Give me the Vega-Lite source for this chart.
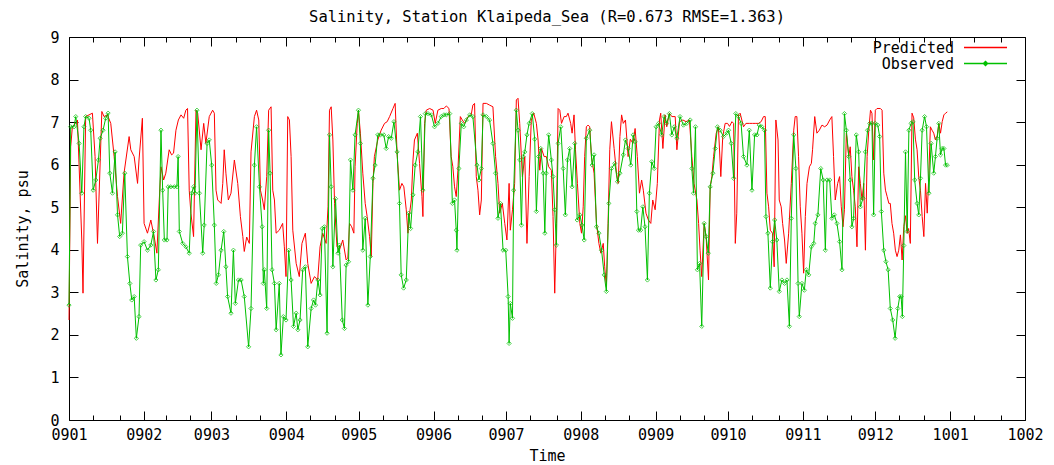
{
  "$schema": "https://vega.github.io/schema/vega-lite/v6.json",
  "width": 956,
  "height": 383,
  "autosize": {"type": "none"},
  "padding": {"left": 69, "top": 37, "right": 29, "bottom": 45},
  "background": "white",
  "title": {"text": "Salinity, Station Klaipeda_Sea (R=0.673 RMSE=1.363)", "font": "DejaVu Sans Mono", "fontSize": 15.5, "fontWeight": "normal", "color": "#000", "anchor": "middle", "offset": 5},
  "config": {
    "view": {"stroke": "#000", "strokeWidth": 1},
    "font": "DejaVu Sans Mono",
    "axis": {"labelFont": "DejaVu Sans Mono", "labelFontSize": 15, "labelColor": "#000", "titleFont": "DejaVu Sans Mono", "titleFontSize": 15, "titleFontWeight": "normal", "titleColor": "#000", "tickColor": "#000", "domain": false, "grid": false}
  },
  "datasets": {
    "pred": [
      {"day":0,"psu":2.35},{"day":0.7,"psu":6.42},{"day":1.4,"psu":6.89},{"day":2.8,"psu":6.97},{"day":3.5,"psu":7.05},{"day":5.3,"psu":4.23},{"day":5.8,"psu":2.98},{"day":6.9,"psu":7.13},{"day":8.3,"psu":7.17},{"day":9.7,"psu":7.21},{"day":10.8,"psu":6.19},{"day":11.8,"psu":4.15},{"day":13.6,"psu":7.25},{"day":14.5,"psu":7.13},{"day":15.9,"psu":7.17},{"day":17.3,"psu":6.97},{"day":18.7,"psu":6.19},{"day":20.1,"psu":5.25},{"day":21.4,"psu":4.62},{"day":22.8,"psu":5.8},{"day":24.9,"psu":6.66},{"day":25.6,"psu":6.35},{"day":27,"psu":6.19},{"day":28.4,"psu":5.56},{"day":29,"psu":6.11},{"day":30.4,"psu":7.09},{"day":31.1,"psu":4.62},{"day":32.5,"psu":4.39},{"day":33.9,"psu":4.7},{"day":35.3,"psu":4.3},{"day":36.4,"psu":3.92},{"day":37.4,"psu":5.17},{"day":38.1,"psu":5.95},{"day":39.2,"psu":5.64},{"day":40.1,"psu":5.8},{"day":41.5,"psu":6.35},{"day":42.5,"psu":6.23},{"day":43.3,"psu":6.27},{"day":44.3,"psu":6.81},{"day":45.3,"psu":7.05},{"day":46.4,"psu":7.17},{"day":47.5,"psu":7.09},{"day":48.4,"psu":7.28},{"day":49.1,"psu":7.32},{"day":49.8,"psu":5.4},{"day":50.5,"psu":4.86},{"day":51.6,"psu":4.31},{"day":52.6,"psu":7.28},{"day":53.3,"psu":7.21},{"day":54.7,"psu":6.35},{"day":55.8,"psu":6.97},{"day":56.7,"psu":6.5},{"day":58.1,"psu":7.13},{"day":59.5,"psu":7.28},{"day":60.2,"psu":7.21},{"day":60.9,"psu":5.4},{"day":61.6,"psu":5.17},{"day":63,"psu":5.09},{"day":63.7,"psu":5.56},{"day":64.3,"psu":6.35},{"day":65,"psu":5.8},{"day":66,"psu":5.17},{"day":67.1,"psu":5.33},{"day":68.5,"psu":6.11},{"day":69.9,"psu":5.56},{"day":71,"psu":4.78},{"day":72,"psu":4.31},{"day":72.6,"psu":3.96},{"day":73.6,"psu":4.3},{"day":74.7,"psu":4.15},{"day":75.4,"psu":6.3},{"day":76.8,"psu":7.13},{"day":77.7,"psu":7.28},{"day":78.6,"psu":7.05},{"day":79.3,"psu":5.4},{"day":80.2,"psu":5.17},{"day":80.9,"psu":4.94},{"day":81.9,"psu":5.72},{"day":82.7,"psu":7.28},{"day":83.7,"psu":7.36},{"day":84.4,"psu":5.4},{"day":85.1,"psu":5.17},{"day":85.8,"psu":4.39},{"day":87.1,"psu":4.46},{"day":88.5,"psu":4.62},{"day":89.2,"psu":4.07},{"day":89.9,"psu":3.37},{"day":90.6,"psu":7.13},{"day":91.3,"psu":7.05},{"day":92,"psu":6.19},{"day":92.7,"psu":4.46},{"day":94.1,"psu":3.68},{"day":95.4,"psu":3.37},{"day":96.5,"psu":4.15},{"day":97.9,"psu":4.39},{"day":98.9,"psu":3.68},{"day":100.3,"psu":3.21},{"day":101.7,"psu":3.37},{"day":103,"psu":3.29},{"day":104,"psu":4.07},{"day":105.1,"psu":4.39},{"day":106.5,"psu":4.15},{"day":107.3,"psu":5.01},{"day":107.9,"psu":7.28},{"day":108.6,"psu":7.36},{"day":109.3,"psu":6.58},{"day":110,"psu":5.09},{"day":111,"psu":4.07},{"day":112,"psu":3.99},{"day":113.4,"psu":4.23},{"day":114.8,"psu":3.76},{"day":115.5,"psu":3.8},{"day":116.2,"psu":4.62},{"day":117.1,"psu":4.54},{"day":118,"psu":4.39},{"day":118.5,"psu":5.95},{"day":119.4,"psu":6.97},{"day":119.9,"psu":7.28},{"day":120.7,"psu":6.74},{"day":121.7,"psu":5.8},{"day":122.7,"psu":5.09},{"day":123.5,"psu":4.78},{"day":124.5,"psu":4.31},{"day":125.2,"psu":3.84},{"day":125.9,"psu":5.56},{"day":126.5,"psu":6.19},{"day":127.9,"psu":6.58},{"day":129.3,"psu":6.81},{"day":130.7,"psu":6.97},{"day":131.8,"psu":7.01},{"day":132.8,"psu":7.13},{"day":134.2,"psu":7.32},{"day":135.1,"psu":7.44},{"day":135.9,"psu":6.27},{"day":136.9,"psu":5.4},{"day":137.9,"psu":5.56},{"day":138.7,"psu":5.48},{"day":139.7,"psu":4.94},{"day":140.4,"psu":4.39},{"day":141.1,"psu":4.86},{"day":141.8,"psu":5.17},{"day":142.5,"psu":6.11},{"day":143.1,"psu":6.58},{"day":144.3,"psu":6.74},{"day":145.2,"psu":6.03},{"day":146.2,"psu":5.25},{"day":146.6,"psu":4.78},{"day":147.3,"psu":6.97},{"day":148,"psu":7.28},{"day":149.4,"psu":7.32},{"day":150.8,"psu":7.28},{"day":151.7,"psu":6.97},{"day":152.8,"psu":7.28},{"day":154.2,"psu":7.32},{"day":155.3,"psu":7.32},{"day":156.3,"psu":7.38},{"day":157.4,"psu":7.32},{"day":158.3,"psu":6.19},{"day":159,"psu":5.95},{"day":159.7,"psu":5.48},{"day":160.4,"psu":5.25},{"day":161.1,"psu":5.87},{"day":162.1,"psu":7.13},{"day":162.9,"psu":7.05},{"day":163.9,"psu":6.97},{"day":165.3,"psu":7.13},{"day":166.6,"psu":7.17},{"day":167.3,"psu":7.4},{"day":168,"psu":7.44},{"day":168.7,"psu":5.72},{"day":169.4,"psu":5.4},{"day":170.1,"psu":4.82},{"day":170.8,"psu":5.17},{"day":171.5,"psu":7.44},{"day":172.9,"psu":7.44},{"day":174.2,"psu":7.4},{"day":175.6,"psu":7.36},{"day":176.7,"psu":6.19},{"day":177.7,"psu":5.56},{"day":178.4,"psu":4.86},{"day":179.5,"psu":5.09},{"day":180.5,"psu":4.62},{"day":181.4,"psu":4.23},{"day":182.3,"psu":5.56},{"day":182.8,"psu":4.46},{"day":183.7,"psu":4.94},{"day":184.6,"psu":5.56},{"day":185.3,"psu":7.52},{"day":186,"psu":7.56},{"day":186.7,"psu":6.97},{"day":187.8,"psu":5.72},{"day":188.8,"psu":6.19},{"day":189.7,"psu":4.15},{"day":190.6,"psu":5.72},{"day":191.5,"psu":7.05},{"day":192.5,"psu":7.21},{"day":193.6,"psu":6.97},{"day":194.3,"psu":6.58},{"day":195,"psu":5.87},{"day":195.7,"psu":6.38},{"day":196.8,"psu":6.19},{"day":197.7,"psu":6.19},{"day":198.7,"psu":5.95},{"day":199.8,"psu":5.87},{"day":200.5,"psu":4.78},{"day":201.2,"psu":2.98},{"day":201.9,"psu":4.62},{"day":202.6,"psu":7.32},{"day":203.3,"psu":7.28},{"day":204,"psu":6.97},{"day":205.1,"psu":7.13},{"day":206,"psu":7.13},{"day":206.7,"psu":7.21},{"day":207.8,"psu":6.97},{"day":208.4,"psu":6.74},{"day":209.2,"psu":7.17},{"day":209.8,"psu":6.35},{"day":210.6,"psu":5.56},{"day":211.6,"psu":4.62},{"day":212.3,"psu":4.39},{"day":213,"psu":5.01},{"day":213.6,"psu":6.19},{"day":214.3,"psu":6.89},{"day":215,"psu":6.93},{"day":215.7,"psu":6.89},{"day":216.4,"psu":6.19},{"day":217.5,"psu":5.8},{"day":218.5,"psu":4.62},{"day":219.5,"psu":4.15},{"day":220.3,"psu":3.92},{"day":221.3,"psu":4.15},{"day":221.9,"psu":3.6},{"day":222.6,"psu":3.13},{"day":223.3,"psu":4.62},{"day":224,"psu":6.35},{"day":224.7,"psu":7.01},{"day":225.8,"psu":6.38},{"day":226.8,"psu":5.8},{"day":227.5,"psu":5.56},{"day":228.2,"psu":6.66},{"day":228.9,"psu":7.17},{"day":229.6,"psu":6.97},{"day":230.5,"psu":7.05},{"day":231.6,"psu":6.19},{"day":232.5,"psu":6.6},{"day":233.6,"psu":6.5},{"day":234.5,"psu":6.85},{"day":235.4,"psu":6.19},{"day":236.3,"psu":5.33},{"day":237.2,"psu":5.64},{"day":237.9,"psu":5.4},{"day":239,"psu":4.86},{"day":240,"psu":4.7},{"day":241,"psu":4.62},{"day":241.8,"psu":5.17},{"day":242.8,"psu":4.94},{"day":243.7,"psu":5.56},{"day":244.6,"psu":7.05},{"day":245.1,"psu":7.21},{"day":246,"psu":6.38},{"day":246.9,"psu":7.17},{"day":247.6,"psu":6.89},{"day":248.7,"psu":7.21},{"day":249.7,"psu":7.13},{"day":251.1,"psu":7.13},{"day":251.8,"psu":6.35},{"day":252.9,"psu":7.01},{"day":254.3,"psu":7.05},{"day":255.6,"psu":7.01},{"day":257,"psu":7.05},{"day":258,"psu":6.19},{"day":258.9,"psu":5.56},{"day":260.1,"psu":5.17},{"day":260.8,"psu":4.62},{"day":261.4,"psu":3.99},{"day":262.1,"psu":3.37},{"day":263.1,"psu":4.62},{"day":263.9,"psu":4.31},{"day":264.9,"psu":3.29},{"day":265.6,"psu":5.48},{"day":266.3,"psu":5.72},{"day":267,"psu":6.19},{"day":268.1,"psu":6.74},{"day":269,"psu":6.89},{"day":270,"psu":5.72},{"day":270.8,"psu":6.66},{"day":271.8,"psu":6.97},{"day":272.8,"psu":6.97},{"day":273.6,"psu":6.9},{"day":274.6,"psu":7.01},{"day":275.3,"psu":6.97},{"day":276,"psu":4.15},{"day":276.6,"psu":4.86},{"day":277.3,"psu":7.17},{"day":278,"psu":7.21},{"day":279.4,"psu":6.89},{"day":280.4,"psu":6.97},{"day":281.8,"psu":6.97},{"day":283.1,"psu":6.97},{"day":284.5,"psu":6.97},{"day":285.6,"psu":6.97},{"day":286.7,"psu":7.01},{"day":287.7,"psu":7.13},{"day":288.4,"psu":7.13},{"day":289.1,"psu":5.33},{"day":289.8,"psu":5.01},{"day":290.5,"psu":4.46},{"day":291.4,"psu":4.39},{"day":292.1,"psu":3.6},{"day":292.8,"psu":7.05},{"day":293.7,"psu":6.58},{"day":294.2,"psu":5.17},{"day":295,"psu":5.01},{"day":295.6,"psu":4.62},{"day":296.4,"psu":4.23},{"day":297.1,"psu":3.68},{"day":298.1,"psu":4.39},{"day":299.2,"psu":5.56},{"day":300.2,"psu":6.81},{"day":300.8,"psu":7.13},{"day":301.5,"psu":7.13},{"day":302.2,"psu":6.19},{"day":302.9,"psu":5.01},{"day":303.6,"psu":4.39},{"day":304.3,"psu":3.45},{"day":305,"psu":4.78},{"day":305.7,"psu":5.56},{"day":306.7,"psu":5.95},{"day":307.5,"psu":6.03},{"day":308,"psu":6.35},{"day":308.9,"psu":7.13},{"day":309.8,"psu":6.74},{"day":310.8,"psu":6.81},{"day":311.9,"psu":6.93},{"day":313,"psu":6.89},{"day":314,"psu":6.93},{"day":315.1,"psu":7.05},{"day":316,"psu":7.13},{"day":316.7,"psu":6.19},{"day":317.4,"psu":5.17},{"day":318.4,"psu":5.56},{"day":319.2,"psu":5.72},{"day":319.9,"psu":5.01},{"day":320.6,"psu":4.54},{"day":321.2,"psu":4.94},{"day":322,"psu":6.74},{"day":323,"psu":6.19},{"day":323.6,"psu":6.42},{"day":324.3,"psu":5.72},{"day":325,"psu":5.4},{"day":325.7,"psu":5.01},{"day":326.4,"psu":4.07},{"day":327.1,"psu":5.95},{"day":327.8,"psu":5.56},{"day":328.5,"psu":5.17},{"day":329.2,"psu":5.56},{"day":329.9,"psu":3.99},{"day":330.6,"psu":6.19},{"day":331.3,"psu":6.81},{"day":332,"psu":7.28},{"day":332.6,"psu":7.21},{"day":333.3,"psu":6.11},{"day":334,"psu":7.28},{"day":334.7,"psu":7.32},{"day":336.1,"psu":7.32},{"day":336.8,"psu":7.28},{"day":337.5,"psu":5.8},{"day":338.2,"psu":5.4},{"day":338.9,"psu":5.25},{"day":339.6,"psu":5.09},{"day":340.2,"psu":5.09},{"day":340.9,"psu":4.62},{"day":341.6,"psu":4.39},{"day":342.3,"psu":3.99},{"day":343,"psu":3.84},{"day":343.7,"psu":3.99},{"day":344.4,"psu":4.35},{"day":345.1,"psu":3.76},{"day":345.8,"psu":4.55},{"day":346.5,"psu":4.8},{"day":347.2,"psu":4.39},{"day":347.8,"psu":4.5},{"day":348.5,"psu":4.15},{"day":349.2,"psu":7.21},{"day":349.9,"psu":7.1},{"day":350.6,"psu":6.6},{"day":351.3,"psu":6.35},{"day":352,"psu":5.7},{"day":352.7,"psu":5.4},{"day":353.4,"psu":4.78},{"day":354.1,"psu":4.31},{"day":354.8,"psu":5.56},{"day":355.5,"psu":4.86},{"day":356.2,"psu":5.8},{"day":356.8,"psu":6.89},{"day":357.5,"psu":6.81},{"day":358.2,"psu":6.74},{"day":358.9,"psu":6.58},{"day":359.6,"psu":6.66},{"day":360.3,"psu":6.97},{"day":361,"psu":6.74},{"day":361.7,"psu":7.01},{"day":362.4,"psu":7.17},{"day":363.1,"psu":7.21},{"day":363.8,"psu":7.24}
    ],
    "obs": [
      {"day":0,"psu":2.7},{"day":0.7,"psu":6.89},{"day":2.1,"psu":6.89},{"day":2.8,"psu":7.13},{"day":4.2,"psu":6.5},{"day":5.3,"psu":5.33},{"day":6.2,"psu":6.89},{"day":6.9,"psu":7.13},{"day":8.3,"psu":7.09},{"day":9,"psu":6.81},{"day":10,"psu":5.4},{"day":11.1,"psu":5.64},{"day":12.2,"psu":6.11},{"day":12.9,"psu":6.62},{"day":14.1,"psu":6.81},{"day":15.2,"psu":7.09},{"day":16.2,"psu":7.21},{"day":16.9,"psu":5.8},{"day":18,"psu":5.33},{"day":19.1,"psu":6.3},{"day":20.1,"psu":4.82},{"day":21,"psu":4.31},{"day":22.1,"psu":4.39},{"day":23.1,"psu":5.8},{"day":24.2,"psu":3.84},{"day":25.2,"psu":3.21},{"day":26,"psu":2.82},{"day":27,"psu":2.9},{"day":27.9,"psu":1.92},{"day":29,"psu":2.43},{"day":29.7,"psu":4.11},{"day":31.1,"psu":4.19},{"day":32.5,"psu":3.99},{"day":33.9,"psu":4.11},{"day":35,"psu":4.43},{"day":36,"psu":3.29},{"day":37,"psu":3.53},{"day":38.1,"psu":6.81},{"day":38.8,"psu":5.4},{"day":39.5,"psu":4.23},{"day":40.6,"psu":4.23},{"day":41.1,"psu":5.48},{"day":42.2,"psu":5.48},{"day":43.6,"psu":5.48},{"day":44.7,"psu":5.48},{"day":45.2,"psu":6.19},{"day":45.7,"psu":4.43},{"day":47.1,"psu":4.15},{"day":48.4,"psu":4.07},{"day":49.8,"psu":3.92},{"day":50.8,"psu":5.33},{"day":51.6,"psu":5.48},{"day":52.2,"psu":5.33},{"day":53,"psu":7.28},{"day":54,"psu":5.33},{"day":55.4,"psu":3.92},{"day":56,"psu":4.58},{"day":57.2,"psu":6.5},{"day":58.1,"psu":6.58},{"day":59.1,"psu":5.99},{"day":60.2,"psu":4.58},{"day":61,"psu":3.21},{"day":61.9,"psu":3.41},{"day":63,"psu":3.99},{"day":64.1,"psu":4.43},{"day":65,"psu":3.6},{"day":65.7,"psu":2.9},{"day":67.1,"psu":2.51},{"day":68.1,"psu":3.99},{"day":68.9,"psu":2.74},{"day":70.2,"psu":3.29},{"day":71.3,"psu":3.29},{"day":72.6,"psu":2.9},{"day":74.4,"psu":1.72},{"day":75.4,"psu":2.62},{"day":76.8,"psu":5.99},{"day":77.7,"psu":6.89},{"day":78.9,"psu":5.48},{"day":80,"psu":4.54},{"day":80.5,"psu":3.21},{"day":80.9,"psu":3.53},{"day":81.9,"psu":2.62},{"day":82.7,"psu":6.81},{"day":83.3,"psu":5.8},{"day":84.1,"psu":3.53},{"day":85.1,"psu":3.21},{"day":85.8,"psu":2.12},{"day":87.1,"psu":3.21},{"day":87.8,"psu":1.53},{"day":88.8,"psu":2.43},{"day":89.9,"psu":2.35},{"day":91,"psu":3.99},{"day":92,"psu":3.29},{"day":93,"psu":2.2},{"day":94.1,"psu":2.51},{"day":94.8,"psu":2.12},{"day":95.7,"psu":2.35},{"day":96.8,"psu":3.53},{"day":97.9,"psu":3.6},{"day":98.9,"psu":1.72},{"day":100.3,"psu":2.62},{"day":101.3,"psu":2.82},{"day":102.1,"psu":2.7},{"day":103.1,"psu":3.29},{"day":104,"psu":2.94},{"day":104.9,"psu":4.5},{"day":105.8,"psu":4.54},{"day":106.9,"psu":2.04},{"day":107.9,"psu":6.7},{"day":108.6,"psu":5.48},{"day":109.3,"psu":3.6},{"day":110.4,"psu":5.2},{"day":111.4,"psu":3.92},{"day":112,"psu":4.11},{"day":113.2,"psu":2.35},{"day":114.1,"psu":2.15},{"day":114.8,"psu":3.64},{"day":115.8,"psu":3.72},{"day":116.6,"psu":6.11},{"day":117.6,"psu":5.4},{"day":118.5,"psu":6.7},{"day":119.9,"psu":7.28},{"day":120.7,"psu":6.5},{"day":121.7,"psu":3.99},{"day":122.7,"psu":4.74},{"day":123.8,"psu":2.7},{"day":124.8,"psu":3.84},{"day":125.9,"psu":5.68},{"day":126.8,"psu":5.99},{"day":127.9,"psu":6.7},{"day":129,"psu":6.7},{"day":130.4,"psu":6.7},{"day":131.4,"psu":6.38},{"day":132.4,"psu":6.66},{"day":133.5,"psu":6.62},{"day":134.6,"psu":7.01},{"day":135.9,"psu":6.3},{"day":136.9,"psu":5.09},{"day":137.6,"psu":3.41},{"day":138.6,"psu":3.1},{"day":139.7,"psu":3.29},{"day":140.7,"psu":4.86},{"day":141.5,"psu":4.5},{"day":142.5,"psu":5.29},{"day":143.4,"psu":5.99},{"day":144.5,"psu":6.3},{"day":145.6,"psu":7.13},{"day":146.6,"psu":5.4},{"day":147.6,"psu":7.2},{"day":148.7,"psu":7.2},{"day":150.1,"psu":7.17},{"day":151.4,"psu":6.89},{"day":152.8,"psu":6.97},{"day":154.2,"psu":7.13},{"day":155.3,"psu":7.17},{"day":156.3,"psu":7.17},{"day":157.7,"psu":7.2},{"day":158.8,"psu":5.09},{"day":159.7,"psu":5.17},{"day":160.4,"psu":4.46},{"day":160.7,"psu":3.99},{"day":161.5,"psu":5.91},{"day":162.5,"psu":6.97},{"day":163.5,"psu":6.89},{"day":164.6,"psu":7.05},{"day":166,"psu":7.17},{"day":167.3,"psu":7.13},{"day":169,"psu":5.99},{"day":169.8,"psu":5.64},{"day":170.8,"psu":5.91},{"day":171.5,"psu":7.17},{"day":172.9,"psu":7.13},{"day":174.2,"psu":7.05},{"day":175.6,"psu":6.5},{"day":176.7,"psu":5.8},{"day":177.7,"psu":4.74},{"day":178.7,"psu":5.09},{"day":179.8,"psu":3.99},{"day":180.9,"psu":3.99},{"day":181.9,"psu":2.9},{"day":182.3,"psu":1.8},{"day":182.8,"psu":2.74},{"day":183.7,"psu":2.39},{"day":184.2,"psu":5.4},{"day":185.3,"psu":7.28},{"day":186,"psu":6.81},{"day":186.7,"psu":6.11},{"day":187.4,"psu":4.58},{"day":188.1,"psu":6.19},{"day":188.8,"psu":6.3},{"day":189.7,"psu":6.7},{"day":190.6,"psu":6.97},{"day":191.9,"psu":7.2},{"day":192.9,"psu":6.6},{"day":193.6,"psu":4.9},{"day":194.5,"psu":6.19},{"day":195.4,"psu":6.38},{"day":196.4,"psu":5.8},{"day":197.1,"psu":4.39},{"day":197.7,"psu":5.8},{"day":198.7,"psu":6.7},{"day":199.8,"psu":6.11},{"day":200.5,"psu":5.72},{"day":201.2,"psu":4.94},{"day":201.9,"psu":4.11},{"day":202.6,"psu":6.5},{"day":203.7,"psu":6.89},{"day":204.7,"psu":5.91},{"day":205.6,"psu":4.82},{"day":206.5,"psu":6.11},{"day":207.4,"psu":6.38},{"day":208.4,"psu":5.48},{"day":209.5,"psu":6.5},{"day":210.5,"psu":4.7},{"day":211.6,"psu":4.82},{"day":212.5,"psu":4.58},{"day":213.4,"psu":4.23},{"day":214.3,"psu":6.62},{"day":215.7,"psu":6.81},{"day":216.7,"psu":5.99},{"day":217.5,"psu":6.23},{"day":218.5,"psu":4.54},{"day":219.5,"psu":4.39},{"day":220.6,"psu":3.99},{"day":221.7,"psu":3.41},{"day":222.6,"psu":3.02},{"day":223.6,"psu":5.09},{"day":224.7,"psu":5.91},{"day":226.1,"psu":6.03},{"day":227.2,"psu":5.6},{"day":228.2,"psu":5.8},{"day":229.6,"psu":6.23},{"day":230.5,"psu":6.58},{"day":231.6,"psu":6.38},{"day":232.7,"psu":5.99},{"day":233.7,"psu":6.7},{"day":234.5,"psu":6.54},{"day":235.2,"psu":4.9},{"day":235.9,"psu":4.46},{"day":236.8,"psu":4.46},{"day":237.7,"psu":5.01},{"day":238.6,"psu":4.54},{"day":239.6,"psu":3.29},{"day":240.4,"psu":5.33},{"day":241.4,"psu":6.07},{"day":242.4,"psu":5.91},{"day":243.2,"psu":6.89},{"day":244.2,"psu":6.97},{"day":245.5,"psu":6.7},{"day":246.5,"psu":7.13},{"day":247.6,"psu":6.97},{"day":248.7,"psu":7.2},{"day":249.7,"psu":6.7},{"day":250.7,"psu":6.89},{"day":251.8,"psu":6.62},{"day":253.1,"psu":7.13},{"day":254.5,"psu":6.93},{"day":255.9,"psu":6.97},{"day":257.3,"psu":7.05},{"day":258,"psu":5.91},{"day":258.7,"psu":5.33},{"day":259.5,"psu":6.89},{"day":260.3,"psu":3.53},{"day":261.2,"psu":3.68},{"day":262.1,"psu":2.2},{"day":263.1,"psu":4.62},{"day":263.9,"psu":4.31},{"day":264.8,"psu":3.92},{"day":265.6,"psu":5.48},{"day":266.7,"psu":5.8},{"day":267.7,"psu":6.38},{"day":268.6,"psu":6.89},{"day":269.7,"psu":6.81},{"day":271.1,"psu":6.66},{"day":272.5,"psu":6.74},{"day":273.2,"psu":6.81},{"day":274.3,"psu":6.5},{"day":275.3,"psu":5.68},{"day":276.2,"psu":7.2},{"day":277.3,"psu":7.13},{"day":278.4,"psu":6.97},{"day":279.4,"psu":6.19},{"day":280.8,"psu":5.99},{"day":281.8,"psu":6.81},{"day":282.9,"psu":5.4},{"day":284,"psu":6.7},{"day":285,"psu":6.7},{"day":285.9,"psu":6.93},{"day":287,"psu":6.89},{"day":288.1,"psu":6.81},{"day":288.7,"psu":4.78},{"day":289.5,"psu":4.39},{"day":290.5,"psu":3.1},{"day":291.4,"psu":4.19},{"day":292.3,"psu":4.7},{"day":293.2,"psu":4.23},{"day":294.2,"psu":3.02},{"day":295.3,"psu":3.29},{"day":296.4,"psu":3.21},{"day":297.4,"psu":3.29},{"day":298.4,"psu":2.2},{"day":299.2,"psu":4.74},{"day":300.2,"psu":6.7},{"day":301.1,"psu":5.91},{"day":302,"psu":3.21},{"day":302.5,"psu":2.43},{"day":303.6,"psu":3.21},{"day":304.6,"psu":3.05},{"day":305.4,"psu":3.53},{"day":306.4,"psu":3.41},{"day":307.5,"psu":4.07},{"day":308.5,"psu":4.15},{"day":309.1,"psu":4.62},{"day":310.2,"psu":4.82},{"day":311.4,"psu":5.91},{"day":312.4,"psu":5.64},{"day":313.3,"psu":3.99},{"day":314,"psu":5.64},{"day":315.1,"psu":5.64},{"day":316,"psu":4.74},{"day":317,"psu":4.82},{"day":318.1,"psu":4.62},{"day":319.2,"psu":4.19},{"day":320.2,"psu":3.53},{"day":321.2,"psu":7.2},{"day":322,"psu":6.81},{"day":323,"psu":6.19},{"day":323.6,"psu":5.64},{"day":324.3,"psu":4.54},{"day":325,"psu":4.74},{"day":326.1,"psu":6.7},{"day":327.1,"psu":6.3},{"day":327.8,"psu":5.01},{"day":328.9,"psu":5.21},{"day":329.9,"psu":6.3},{"day":330.8,"psu":6.81},{"day":331.7,"psu":6.97},{"day":332.6,"psu":6.97},{"day":333.3,"psu":4.82},{"day":334,"psu":6.97},{"day":335,"psu":6.93},{"day":335.8,"psu":6.66},{"day":336.5,"psu":4.9},{"day":337.5,"psu":3.99},{"day":338.4,"psu":3.72},{"day":339.3,"psu":3.53},{"day":340.2,"psu":2.62},{"day":341.2,"psu":2.35},{"day":342.2,"psu":1.92},{"day":343.3,"psu":2.62},{"day":344.1,"psu":2.9},{"day":344.7,"psu":2.9},{"day":345.2,"psu":2.43},{"day":345.8,"psu":4.1},{"day":346.5,"psu":6.3},{"day":347.2,"psu":4.43},{"day":347.9,"psu":6.81},{"day":348.8,"psu":6.97},{"day":349.6,"psu":7.01},{"day":350.3,"psu":5.64},{"day":351.3,"psu":5.09},{"day":352,"psu":4.82},{"day":352.7,"psu":5.68},{"day":353.4,"psu":6.81},{"day":354.4,"psu":7.13},{"day":355.2,"psu":6.89},{"day":356.2,"psu":5.33},{"day":357.1,"psu":6.5},{"day":358.2,"psu":5.8},{"day":358.9,"psu":6.19},{"day":359.6,"psu":6.62},{"day":360.3,"psu":6.97},{"day":361,"psu":6.23},{"day":361.7,"psu":6.38},{"day":362.4,"psu":6.38},{"day":363.1,"psu":5.99},{"day":363.8,"psu":5.99}
    ]
  },
  "resolve": {"axis": {"x": "independent", "y": "independent"}},
  "layer": [
    {
      "data": {"name": "pred"},
      "mark": {"type": "line", "strokeWidth": 1, "interpolate": "linear"},
      "encoding": {
        "x": {"field": "day", "type": "quantitative",
          "scale": {"domain": [0, 396], "nice": false, "zero": false},
          "axis": {"orient": "bottom", "title": "Time", "titlePadding": 2,
            "values": [0,10,21,31,40,50,59,69,79,90,100,110,120,130,140,151,161,171,181,191,202,212,222,232,243,253,263,273,283,294,304,314,324,334,344,354,365,375,386,396],
            "labelExpr": "indexof([0,31,59,90,120,151,181,212,243,273,304,334,365,396], datum.value) >= 0 ? ['0901','0902','0903','0904','0905','0906','0907','0908','0909','0910','0911','0912','1001','1002'][indexof([0,31,59,90,120,151,181,212,243,273,304,334,365,396], datum.value)] : ''",
            "tickSize": {"condition": {"test": "indexof([0,31,59,90,120,151,181,212,243,273,304,334,365,396], datum.value) >= 0", "value": -9}, "value": -5},
            "labelPadding": 16, "labelFlush": false, "labelOverlap": false, "labelBound": false}},
        "y": {"field": "psu", "type": "quantitative",
          "scale": {"domain": [0, 9], "nice": false, "zero": true},
          "axis": {"orient": "left", "title": "Salinity, psu", "titlePadding": 19, "values": [0,1,2,3,4,5,6,7,8,9], "tickSize": -9, "labelPadding": 19}},
        "color": {"datum": "Predicted", "type": "nominal",
          "scale": {"domain": ["Predicted", "Observed"], "range": ["#ff0000", "#00c000"]},
          "legend": {"title": null, "orient": "none", "legendX": 909, "legendY": 3,
            "labelFont": "DejaVu Sans Mono", "labelFontSize": 15, "labelColor": "#000",
            "labelAlign": "right", "labelOffset": -39, "symbolSize": 100, "symbolStrokeWidth": 1.5,
            "rowPadding": 0, "padding": 0,
            "symbolType": "M-4.3,0H4.3",
            "encode": {"symbols": {"update": {"shape": {"signal": "datum.value === 'Observed' ? 'M-4.3,0H4.3M0,-0.4L0.4,0L0,0.4L-0.4,0Z' : 'M-4.3,0H4.3'"}, "fill": {"value": "transparent"}}}}}}
      }
    },
    {
      "data": {"name": "obs"},
      "mark": {"type": "line", "strokeWidth": 1, "interpolate": "linear"},
      "encoding": {
        "x": {"field": "day", "type": "quantitative",
          "axis": {"orient": "top", "title": null, "labels": false,
            "values": [0,10,21,31,40,50,59,69,79,90,100,110,120,130,140,151,161,171,181,191,202,212,222,232,243,253,263,273,283,294,304,314,324,334,344,354,365,375,386,396],
            "tickSize": {"condition": {"test": "indexof([0,31,59,90,120,151,181,212,243,273,304,334,365,396], datum.value) >= 0", "value": -9}, "value": -5}}},
        "y": {"field": "psu", "type": "quantitative",
          "axis": {"orient": "right", "title": null, "labels": false, "values": [0,1,2,3,4,5,6,7,8,9], "tickSize": -9}},
        "color": {"datum": "Observed", "type": "nominal"}
      }
    },
    {
      "data": {"name": "obs"},
      "mark": {"type": "point", "shape": "diamond", "size": 18, "filled": false, "stroke": "#00c000", "strokeWidth": 1},
      "encoding": {
        "x": {"field": "day", "type": "quantitative", "axis": null},
        "y": {"field": "psu", "type": "quantitative", "axis": null}
      }
    }
  ]
}
